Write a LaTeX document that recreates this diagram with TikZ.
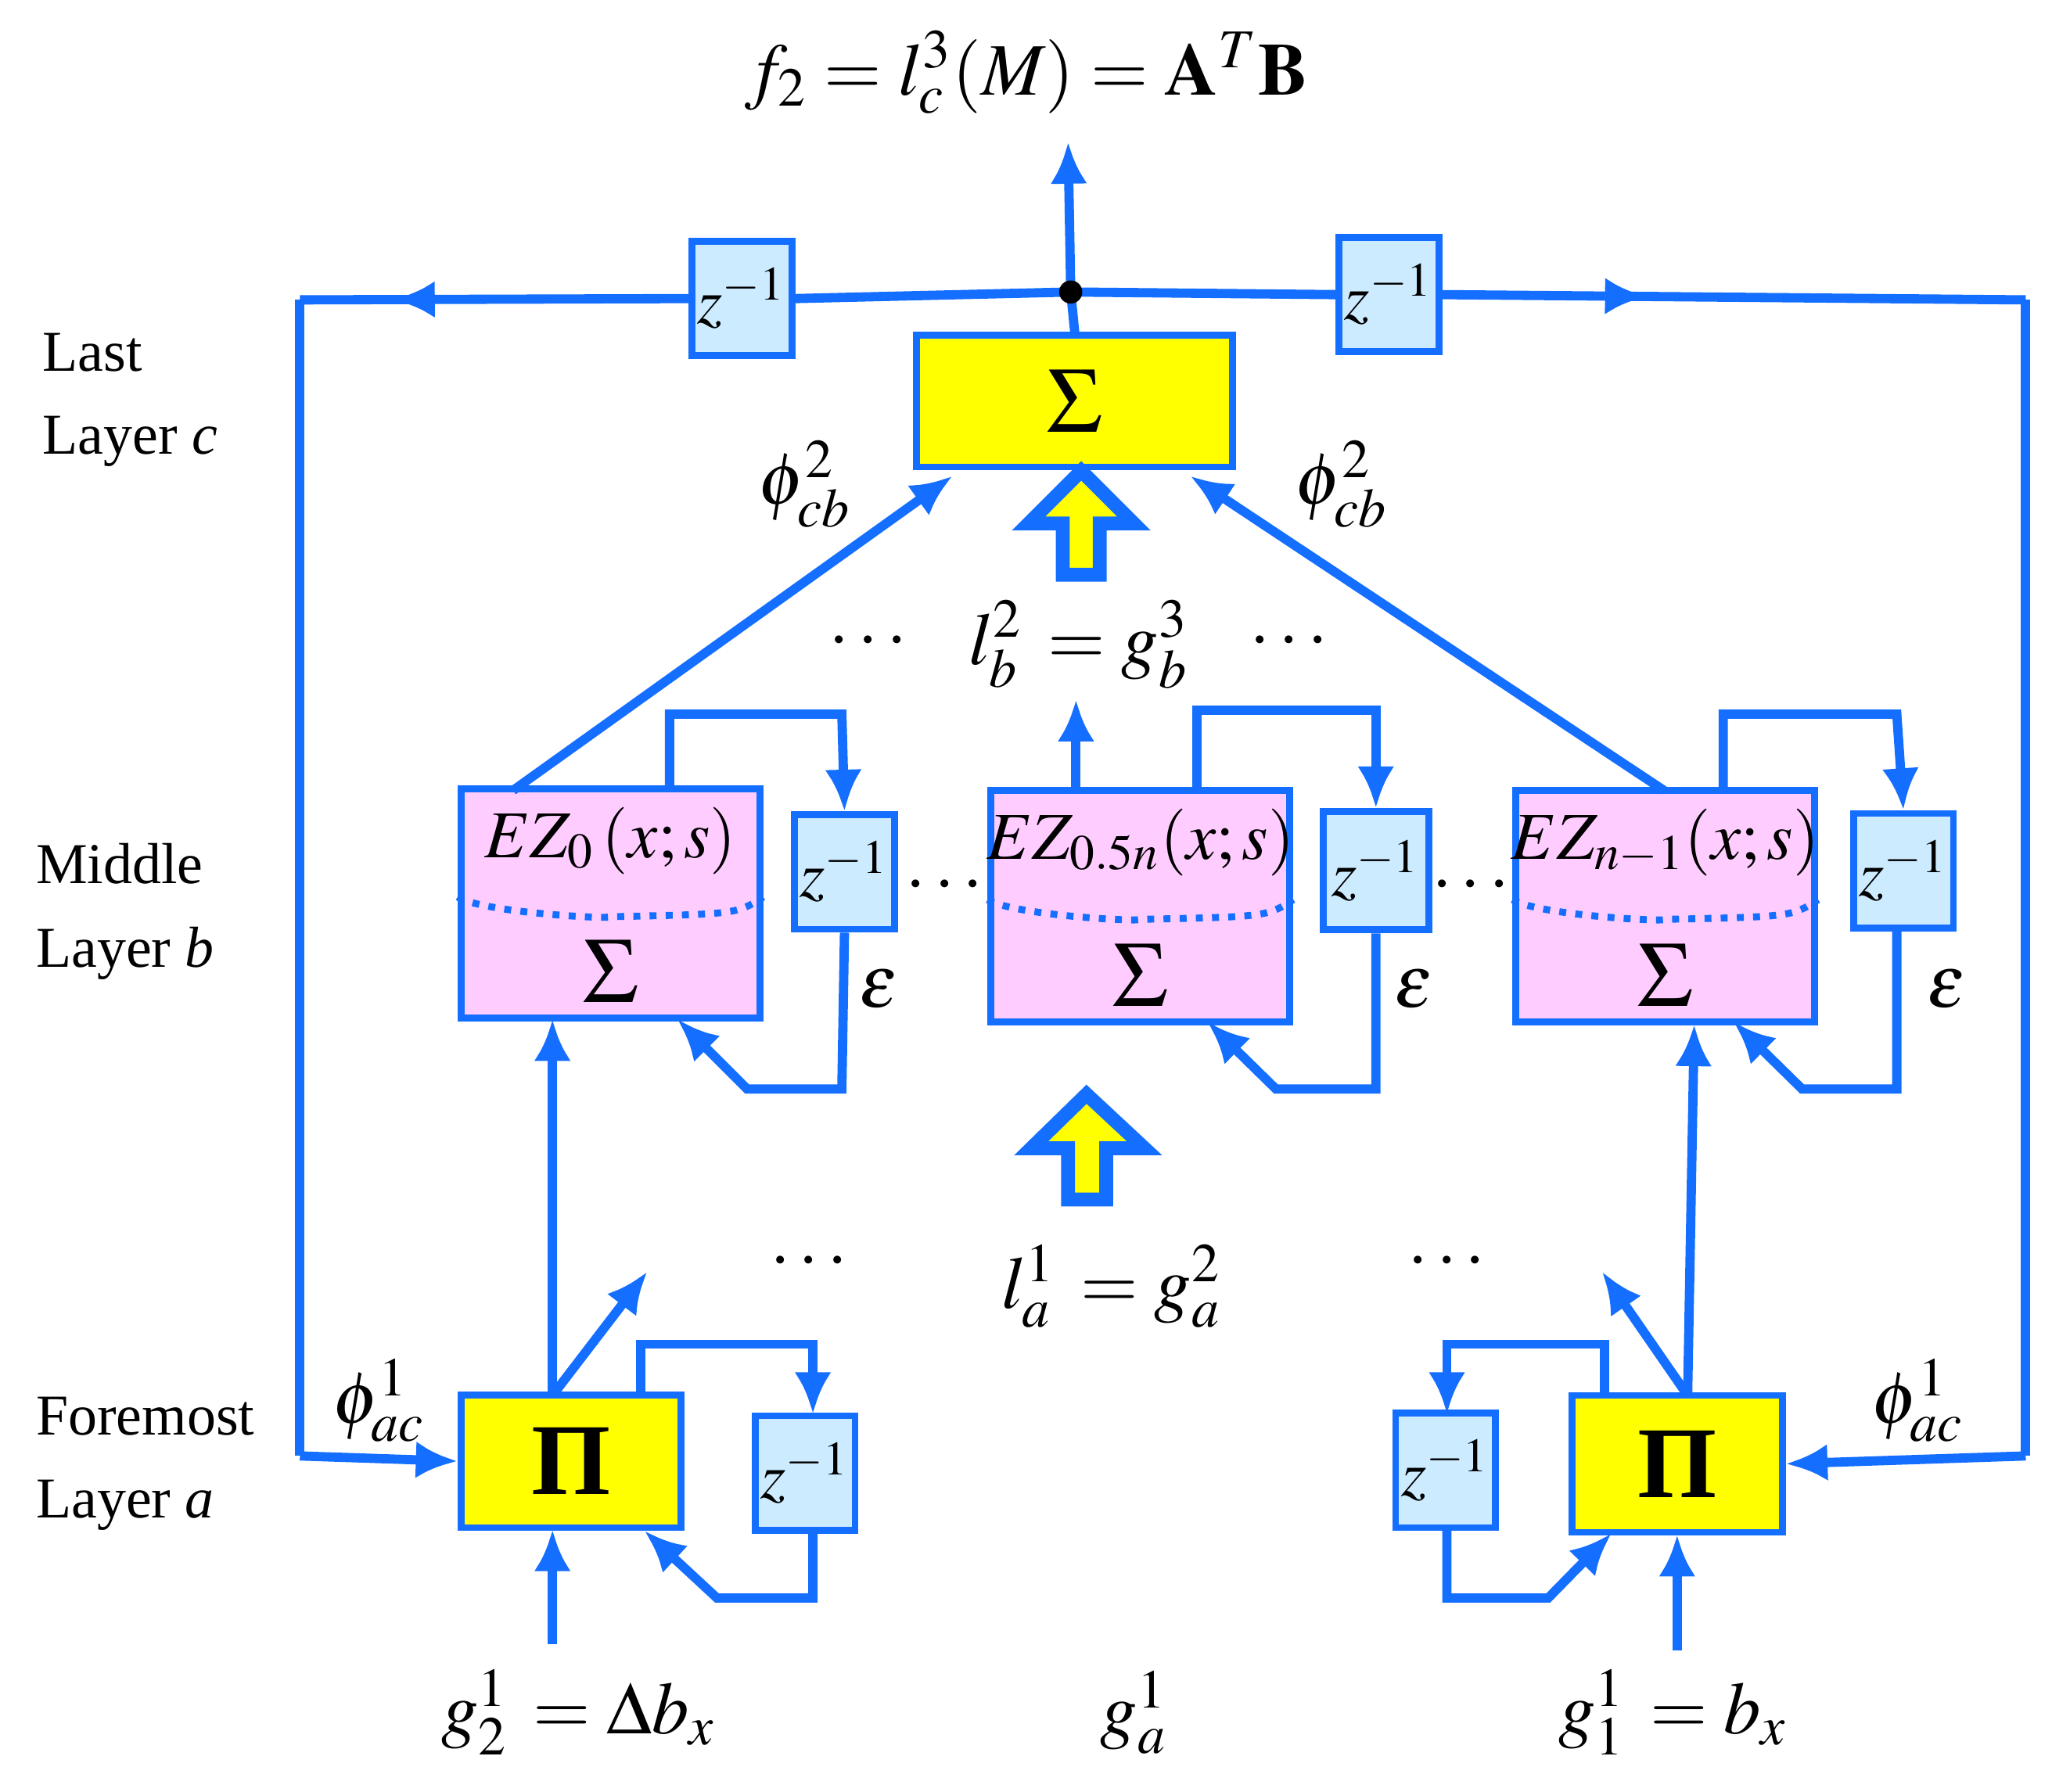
\documentclass[tikz,border=0pt]{standalone}
\usepackage{mathptmx}
\usepackage{fontspec}
\setmainfont{Liberation Serif}
\usetikzlibrary{arrows.meta,decorations.markings}
\definecolor{bl}{RGB}{20,110,255}
\definecolor{lb}{RGB}{205,235,255}
\definecolor{pk}{RGB}{255,204,255}
\definecolor{yl}{RGB}{255,255,0}
\begin{document}
\begin{tikzpicture}[x=0.01cm,y=-0.01cm,
  ln/.style={draw=bl,line width=2pt},
  ar/.style={ln,-{Latex[length=9pt,width=8pt]}},
  zb/.style={draw=bl,line width=1.5pt,fill=lb,minimum width=0.76cm,minimum height=0.87cm,inner sep=0pt,font=\fontsize{14}{14}\selectfont},
  pb/.style={draw=bl,line width=1.5pt,fill=pk,minimum width=2.27cm,minimum height=1.74cm,inner sep=0pt},
  yb/.style={draw=bl,line width=1.5pt,fill=yl,inner sep=0pt},
  lab/.style={font=\fontsize{16}{16}\selectfont},
  lay/.style={font=\fontsize{12.5}{18}\selectfont,align=left,anchor=west}]
\useasboundingbox (0,0) rectangle (1560,1362);
% top
\node[lab] (top) at (780,55) {$f_2=l_c^3(M)=\mathbf{A}^T\mathbf{B}$};
\coordinate (j) at (814,222);
\node[yb,minimum width=2.4cm,minimum height=1.0cm] (S) at (817,305) {\fontsize{20}{20}\selectfont$\Sigma$};
\node[zb] (zt1) at (564,227) {$z^{-1}$};
\node[zb] (zt2) at (1056,224) {$z^{-1}$};
\coordinate (tl) at (228,228); \coordinate (tr) at (1540,228);
\coordinate (bl) at (228,1107); \coordinate (br) at (1540,1107);
\node[yb,minimum width=1.67cm,minimum height=1.01cm] (P1) at (434,1111) {\fontsize{22}{22}\selectfont\textbf{Π}};
\node[yb,minimum width=1.6cm,minimum height=1.04cm] (P2) at (1275,1113) {\fontsize{22}{22}\selectfont\textbf{Π}};
\draw[ln,postaction={decorate},decoration={markings,mark=at position 0.76 with {\arrow{Latex[length=9pt,width=8pt]}}}] (zt1.west) -- (tl);
\draw[ln] (j) -- (zt1.east);
\draw[ln] (j) -- (zt2.west);
\draw[ln,postaction={decorate},decoration={markings,mark=at position 0.35 with {\arrow{Latex[length=9pt,width=8pt]}}}] (zt2.east) -- (tr);
\draw[ln] (tl) -- (bl); \draw[ar] (bl) -- (P1.west);
\draw[ln] (tr) -- (br); \draw[ar] (br) -- (P2.east);
\draw[ln] (j) -- (S.north);
\draw[ar] (j) -- (812,108);
\fill (j) circle (2.5pt);
% big arrows
\draw[draw=bl,line width=3pt,fill=yl] (808,437) -- (808,398) -- (782,398) -- (822,358) -- (862,398) -- (836,398) -- (836,437) -- cycle;
\draw[draw=bl,line width=3pt,fill=yl] (812,912) -- (812,873) -- (784,873) -- (826,832) -- (870,873) -- (841,873) -- (841,912) -- cycle;
% middle boxes
\node[pb] (E1) at (464,687) {};
\node[pb,minimum height=1.76cm] (E2) at (867,689) {};
\node[pb,minimum height=1.76cm] (E3) at (1266,689) {};
\foreach \b/\t in {E1/{$EZ_0\,(x;s)$},E2/{$EZ_{0.5n}(x;s)$},E3/{$EZ_{n-1}(x;s)$}}{
  \node[font=\fontsize{14.5}{14.5}\selectfont] at ([yshift=-0.42cm]\b.north) {\t};
  \node[font=\fontsize{20}{20}\selectfont] at ([yshift=0.38cm]\b.south) {$\Sigma$};
  \draw[bl,line width=1.5pt,dotted] ([yshift=0.05cm]\b.west) .. controls ([xshift=0.2cm,yshift=-0.07cm]\b.west) and ([yshift=-0.12cm]\b.center) .. ([yshift=-0.1cm]\b.center) .. controls ([xshift=-0.2cm,yshift=-0.08cm]\b.east) .. ([yshift=0.05cm]\b.east);
}
\node[zb] (z1) at (642,663) {$z^{-1}$};
\node[zb,minimum width=0.8cm,minimum height=0.9cm] (z2) at (1046,662) {$z^{-1}$};
\node[zb] (z3) at (1447,662) {$z^{-1}$};
\draw[ar] (509,601) -- (509,543) -- (640,543) -- (z1.north);
\draw[ar] (z1.south) -- (640,828) -- (568,828) -- (515,775);
\draw[ar] (910,601) -- (910,540) -- (1046,540) -- (z2.north);
\draw[ar] (z2.south) -- (1046,828) -- (970,828) -- (918,777);
\draw[ar] (1310,601) -- (1310,543) -- (1442,543) -- (z3.north);
\draw[ar] (1442,707) -- (1442,828) -- (1370,828) -- (1318,777);
\node[lab] at (668,752) {$\varepsilon$};
\node[lab] at (1075,752) {$\varepsilon$};
\node[lab] at (1480,752) {$\varepsilon$};
\draw[ar] (390,601) -- (724,362);
\draw[ar] (1265,601) -- (905,362);
\draw[ar] (818,601) -- (818,532);
\node[lab] at (612,368) {$\phi_{cb}^2$};
\node[lab] at (1020,368) {$\phi_{cb}^2$};
\node[lab] at (820,490) {$l_b^2\,=g_b^3$};
\node[lab] at (660,488) {$\cdots$};
\node[lab] at (980,488) {$\cdots$};
\node[lab] at (718,674) {$\cdots$};
\node[lab] at (1118,674) {$\cdots$};
% bottom
\node[zb] (z4) at (612,1120) {$z^{-1}$};
\node[zb,minimum height=0.87cm] (z5) at (1099,1118) {$z^{-1}$};
\draw[ar] (420,1061) -- (420,775);
\draw[ar] (420,1061) -- (492,967);
\draw[ar] (487,1061) -- (487,1022) -- (618,1022) -- (618,1075);
\draw[ar] (618,1165) -- (618,1215) -- (545,1215) -- (490,1164);
\draw[ar] (420,1250) -- (420,1163);
\draw[ar] (1283,1061) -- (1288,779);
\draw[ar] (1283,1061) -- (1218,967);
\draw[ar] (1220,1061) -- (1220,1022) -- (1100,1022) -- (1100,1075);
\draw[ar] (1100,1162) -- (1100,1215) -- (1177,1215) -- (1225,1166);
\draw[ar] (1275,1255) -- (1275,1167);
\node[lab] at (440,1302) {$g_2^1\,=\Delta b_x$};
\node[lab] at (862,1302) {$g_a^1$};
\node[lab] at (1272,1302) {$g_1^1\,=b_x$};
\node[lab] at (845,978) {$l_a^1\,=g_a^2$};
\node[lab] at (615,960) {$\cdots$};
\node[lab] at (1100,960) {$\cdots$};
\node[lab] at (288,1065) {$\phi_{ac}^1$};
\node[lab] at (1458,1065) {$\phi_{ac}^1$};
% layer labels
\node[lay] (L1) at (20,304) {Last\\Layer \textit{c}};
\node[lay] (L2) at (15,693) {Middle\\Layer \textit{b}};
\node[lay] (L3) at (15,1113) {Foremost\\Layer \textit{a}};
\end{tikzpicture}
\end{document}
